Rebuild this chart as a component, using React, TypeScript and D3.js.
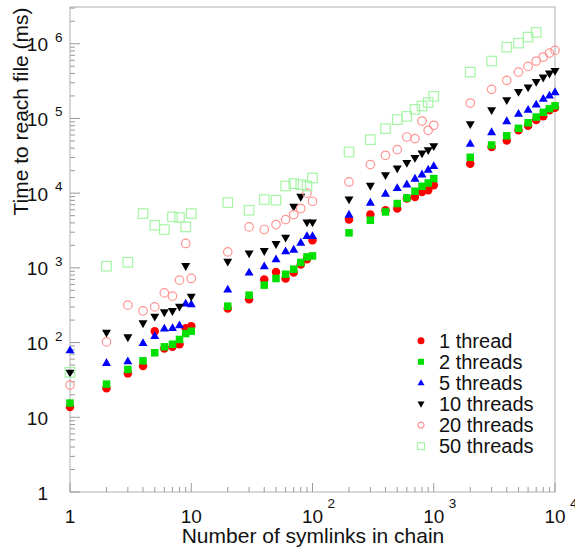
import React from "react";
import * as d3 from "d3";

const symlinks = [1, 2, 3, 4, 5, 6, 7, 8, 9, 10, 20, 30, 40, 50, 60, 70, 80, 90, 100, 200, 300, 400, 500, 600, 700, 800, 900, 1000, 2000, 3000, 4000, 5000, 6000, 7000, 8000, 9000, 10000];

const thread1 = [13.7, 24.4, 38.7, 48.4, 142, 83.5, 87.7, 95, 155, 166, 286, 381, 699, 883, 721, 867, 1110, 1306, 2340, 4430, 5170, 5900, 6220, 8450, 8890, 10370, 10930, 12740, 24700, 41500, 50500, 69400, 79600, 95300, 106700, 128400, 138600];
const threads2 = [15.5, 27.8, 43.7, 57, 73, 87.7, 95, 110, 132, 142, 307, 431, 587, 721, 823, 960, 1180, 1400, 1445, 2940, 4340, 5600, 7260, 8630, 10600, 12360, 13680, 15670, 30200, 44100, 58500, 73800, 87400, 104400, 120700, 135200, 147400];
const threads5 = [79, 53.6, 56.5, 99, 123, 155, 157, 171, 334, 327, 514, 867, 1052, 1306, 1670, 1760, 2180, 2680, 2680, 5170, 7480, 9870, 11730, 13150, 15670, 17880, 20700, 23100, 46000, 65800, 92300, 115900, 131200, 154400, 184000, 203700, 225400];
const threads10 = [39.4, 135, 117, 180, 221, 253, 263, 300, 1052, 409, 1202, 1556, 1670, 2070, 2516, 6530, 8880, 4040, 4040, 8200, 12470, 17340, 21300, 25300, 29500, 33800, 37400, 42400, 83400, 128400, 174600, 225400, 258000, 307000, 351000, 397000, 430000];
const threads20 = [27, 102, 317, 266, 300, 462, 418, 684, 2120, 721, 1636, 3530, 3260, 3800, 4430, 5170, 6220, 10000, 7790, 14120, 24100, 32100, 38300, 56400, 53700, 92300, 69400, 80900, 160700, 245000, 323400, 417000, 497000, 586000, 663000, 749000, 814000];
const threads50 = [40, 1052, 1190, 5330, 3720, 3260, 4810, 4710, 3530, 5330, 7480, 5900, 8200, 8030, 12470, 13400, 13000, 12470, 15960, 35560, 52000, 73000, 96400, 106600, 132400, 146600, 163000, 197500, 417000, 586000, 901000, 1019000, 1227000, 1416000, null, null, null];

const seriesNames = ["1 thread", "2 threads", "5 threads", "10 threads", "20 threads", "50 threads"];
const seriesValues = [thread1, threads2, threads5, threads10, threads20, threads50];
const seriesColors = ["#ff0000", "#00e000", "#0000ff", "#000000", "#ff9494", "#a6f5a6"];
const seriesShapes = ["circle", "square", "triUp", "triDown", "openCircle", "openSquare"];

const xMajor = [1, 10, 100, 1000, 10000];
const xMajorExp = ["", "", "2", "3", "4"];
const xMajorBase = ["1", "10", "10", "10", "10"];
const yMajor = [1, 10, 100, 1000, 10000, 100000, 1000000];
const yMajorBase = ["1", "10", "10", "10", "10", "10", "10"];
const yMajorExp = ["", "", "2", "3", "4", "5", "6"];

const W = 575;
const H = 549;
const left = 70, right = 555, top = 7, bottom = 492;
const FONT = "'Liberation Sans', Arial, Helvetica, sans-serif";

function Marker({ shape, color, size }: { shape: string; color: string; size: number }) {
  const s = size;
  if (shape === "circle") return <circle r={s / 2} fill={color} />;
  if (shape === "openCircle") return <circle r={s / 2 - 0.5} fill="none" stroke={color} strokeWidth={1.2} />;
  if (shape === "square") return <rect x={-s / 2 + 0.5} y={-s / 2 + 0.5} width={s - 1} height={s - 1} fill={color} />;
  if (shape === "openSquare") return <rect x={-s / 2} y={-s / 2} width={s} height={s} fill="none" stroke={color} strokeWidth={1.2} />;
  const h = s * 0.87;
  if (shape === "triUp") return <path d={`M0,${-h * 0.6}L${s / 2},${h * 0.4}L${-s / 2},${h * 0.4}Z`} fill={color} />;
  return <path d={`M0,${h * 0.6}L${s / 2},${-h * 0.4}L${-s / 2},${-h * 0.4}Z`} fill={color} />;
}

export default function App() {
  const x = d3.scaleLog().domain([1, 10000]).range([left, right]);
  const y = d3.scaleLog().domain([1, 3.1e6]).range([bottom, top]);

  const xMinor: number[] = [];
  for (let p = 1; p < 10000; p *= 10) for (let k = 2; k <= 9; k++) xMinor.push(p * k);
  const yMinor: number[] = [];
  for (let p = 1; p <= 1e6; p *= 10) for (let k = 2; k <= 9; k++) if (p * k <= 3.1e6) yMinor.push(p * k);

  const tickColor = "#9a9a9a";
  const legendX = 421;
  const legendY0 = 340.7;
  const legendStep = 21.1;

  return (
    <svg width={W} height={H} style={{ position: "absolute", left: 0, top: 0, background: "#fff" }} fontFamily={FONT}>
      <rect x={0} y={0} width={W} height={H} fill="#fff" />
      {/* frame */}
      <rect x={left} y={top} width={right - left} height={bottom - top} fill="none" stroke="#b0b0b0" strokeWidth={1} />
      {/* y ticks */}
      {yMajor.map((v) => (
        <line key={"ym" + v} x1={left} x2={left + 10} y1={y(v)} y2={y(v)} stroke={tickColor} />
      ))}
      {yMinor.map((v) => (
        <line key={"yn" + v} x1={left} x2={left + 5} y1={y(v)} y2={y(v)} stroke={tickColor} />
      ))}
      {xMajor.map((v) => (
        <line key={"xm" + v} x1={x(v)} x2={x(v)} y1={bottom} y2={bottom - 9} stroke={tickColor} />
      ))}
      {xMinor.map((v) => (
        <line key={"xn" + v} x1={x(v)} x2={x(v)} y1={bottom} y2={bottom - 5} stroke={tickColor} />
      ))}
      {/* y tick labels */}
      {yMajor.map((v, i) => (
        <g key={"yl" + v}>
          <text x={48} y={y(v) + 7.5} fontSize={19} textAnchor="end" fill="#111">{yMajorBase[i]}</text>
          {yMajorExp[i] && (
            <text x={55} y={y(v) - 2} fontSize={13.5} fill="#111">{yMajorExp[i]}</text>
          )}
        </g>
      ))}
      {/* x tick labels */}
      {xMajor.map((v, i) => (
        <g key={"xl" + v}>
          <text x={x(v)} y={523} fontSize={19} textAnchor="middle" fill="#111">{xMajorBase[i]}</text>
          {xMajorExp[i] && (
            <text x={x(v) + 15} y={508} fontSize={13.5} fill="#111">{xMajorExp[i]}</text>
          )}
        </g>
      ))}
      {/* axis titles */}
      <text x={313} y={543} fontSize={21} textAnchor="middle" fill="#111">Number of symlinks in chain</text>
      <text transform={`translate(28,${111.5}) rotate(-90)`} fontSize={21} textAnchor="middle" fill="#111">Time to reach file (ms)</text>
      {/* data */}
      {seriesValues.map((vals, si) => (
        <g key={"s" + si}>
          {vals.map((v, i) =>
            v == null ? null : (
              <g key={i} transform={`translate(${x(symlinks[i])},${y(v)})`}>
                <Marker shape={seriesShapes[si]} color={seriesColors[si]} size={si >= 4 ? 9.5 : si >= 2 ? 9 : 8.5} />
              </g>
            )
          )}
        </g>
      ))}
      {/* legend */}
      {seriesNames.map((name, i) => (
        <g key={"lg" + i} transform={`translate(0,${legendY0 + i * legendStep})`}>
          <g transform={`translate(${legendX},0)`}>
            <Marker shape={seriesShapes[i]} color={seriesColors[i]} size={7} />
          </g>
          <text x={439} y={6.8} fontSize={20} fill="#111">{name}</text>
        </g>
      ))}
    </svg>
  );
}
